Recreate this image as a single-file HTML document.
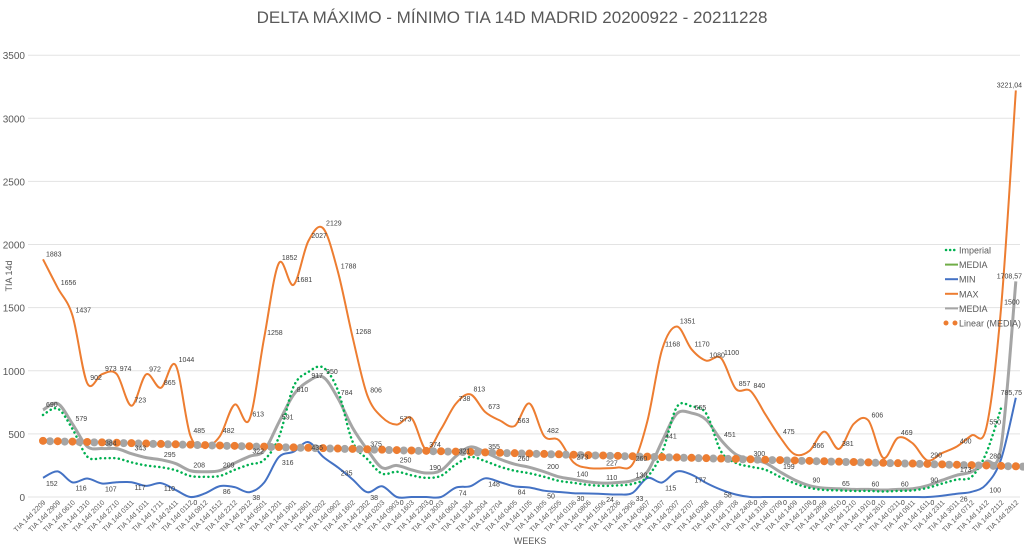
<!DOCTYPE html>
<html><head><meta charset="utf-8"><style>
body{margin:0;background:#fff;width:1024px;height:547px;overflow:hidden;font-family:"Liberation Sans",sans-serif}
</style></head><body>
<svg id="s" width="1024" height="547" xmlns="http://www.w3.org/2000/svg" font-family="Liberation Sans, sans-serif">
<rect width="1024" height="547" fill="#fff"/>
<text x="512" y="23" text-anchor="middle" font-size="17" fill="#595959">DELTA MÁXIMO - MÍNIMO TIA 14D MADRID 20200922 - 20211228</text>
<text x="12" y="276" font-size="9" fill="#595959" transform="rotate(-90 12 276)" text-anchor="middle">TIA 14d</text>
<text x="530" y="544" font-size="9" fill="#595959" text-anchor="middle">WEEKS</text>
<g id="g"></g>
</svg>
<script>
const g=document.getElementById('g');let h='';
const Y=v=>497-v*0.12623, X=i=>43+i*14.74;
for(let v=0;v<=3500;v+=500){h+=`<line x1="28" x2="1020" y1="${Y(v)}" y2="${Y(v)}" stroke="#e3e3e3" stroke-width="1"/>`;h+=`<text x="25" y="${Y(v)+4}" font-size="10" fill="#595959" text-anchor="end">${v}</text>`;}
const d=[];let dt=new Date(2020,8,22);
for(let i=0;i<67;i++){const t=new Date(dt.getTime()+i*7*864e5);d.push(String(t.getDate()).padStart(2,'0')+String(t.getMonth()+1).padStart(2,'0'));}
d.forEach((l,i)=>{h+=`<text x="${X(i)+3}" y="503" font-size="7" fill="#595959" text-anchor="end" transform="rotate(-45 ${X(i)+3} 503)">TIA 14d ${l}</text>`});
function path(a,c,w,dash){let p=a.map((v,i)=>[X(i),Y(v)]);let s=`M${p[0][0]},${p[0][1]}`;for(let i=0;i<p.length-1;i++){const p0=p[i-1]||p[i],p1=p[i],p2=p[i+1],p3=p[i+2]||p2;s+=`C${p1[0]+(p2[0]-p0[0])/6},${p1[1]+(p2[1]-p0[1])/6} ${p2[0]-(p3[0]-p1[0])/6},${p2[1]-(p3[1]-p1[1])/6} ${p2[0]},${p2[1]}`;}
h+=`<path d="${s}" fill="none" stroke="${c}" stroke-width="${w}" ${dash?`stroke-dasharray="${dash}" stroke-linecap="round"`:''}/>`;}
const MAX=[1883,1656,1437,902,973,974,723,972,865,1044,485,400,482,732,613,1258,1852,1681,2027,2129,1788,1268,806,632,573,625,374,537,738,813,673,606,563,741,482,450,273,230,227,234,260,600,1168,1351,1170,1080,1100,857,840,656,475,338,366,518,381,579,606,310,469,425,290,348,400,488,550,1500,3221];
const MIN=[152,203,116,147,107,117,117,88,110,56,0,29,86,78,38,114,316,359,435,319,235,140,38,85,0,0,0,0,74,86,148,118,84,75,50,40,30,28,24,20,33,150,115,202,177,111,58,20,0,0,0,0,0,0,0,0,0,0,0,0,0,10,26,41,100,300,786];
const MED=[690,740,579,400,384,383,343,312,295,265,208,200,209,269,322,367,591,810,917,950,784,549,375,232,250,215,190,210,321,396,355,300,260,235,200,160,140,120,110,115,130,200,441,660,665,611,451,338,300,270,199,135,90,70,65,60,60,55,60,65,90,133,173,200,280,400,1708];
const IMP=MED.map((v,i)=>i<3?v-40:v*(v>600?1.08:0.8));
const IMP2=IMP.slice(0,66);IMP2[64]=350;IMP2[65]=705;
path(MED,'#a5a5a5',3);path(MIN,'#4472c4',2);path(MAX,'#ed7d31',2);path(IMP2,'#00b050',2.5,'0.1 4.5');
for(let i=0;i<67;i++){const v=445-i*3.05;h+=`<circle cx="${X(i)+7}" cy="${Y(v-3)}" r="4" fill="#a5a5a5"/><circle cx="${X(i)}" cy="${Y(v)}" r="4" fill="#ed7d31"/>`;}
const lab=(a,c,dy)=>a.forEach((v,i)=>{if(i==66)return;if(i%2==0||v>800)h+=`<text x="${X(i)+3}" y="${Y(v)+dy}" font-size="7" fill="#404040">${String(v).replace('.',',')}</text>`});
lab(MAX,0,-3);lab(MIN,0,8);lab(MED,0,-3);
h+=`<text x="1022" y="${Y(3221)-3}" font-size="7" fill="#404040" text-anchor="end">3221,04</text><text x="1022" y="${Y(1708)-3}" font-size="7" fill="#404040" text-anchor="end">1708,57</text><text x="1022" y="${Y(786)-3}" font-size="7" fill="#404040" text-anchor="end">785,75</text>`;
const L=[['Imperial','#00b050','d'],['MEDIA','#70ad47','l'],['MIN','#4472c4','l'],['MAX','#ed7d31','l'],['MEDIA','#a5a5a5','l'],['Linear (MEDIA)','#ed7d31','c']];
L.forEach((e,k)=>{const y=250+k*14.6;if(e[2]=='d')h+=`<line x1="946" x2="956" y1="${y}" y2="${y}" stroke="${e[1]}" stroke-width="2.5" stroke-dasharray="0.1 4" stroke-linecap="round"/>`;else if(e[2]=='l')h+=`<line x1="945" x2="958" y1="${y}" y2="${y}" stroke="${e[1]}" stroke-width="2"/>`;else h+=`<circle cx="946" cy="${y}" r="2.5" fill="${e[1]}"/><circle cx="955" cy="${y}" r="2.5" fill="${e[1]}"/>`;h+=`<text x="959" y="${y+3.5}" font-size="9" fill="#595959">${e[0]}</text>`});
g.innerHTML=h;
</script>
</body></html>
